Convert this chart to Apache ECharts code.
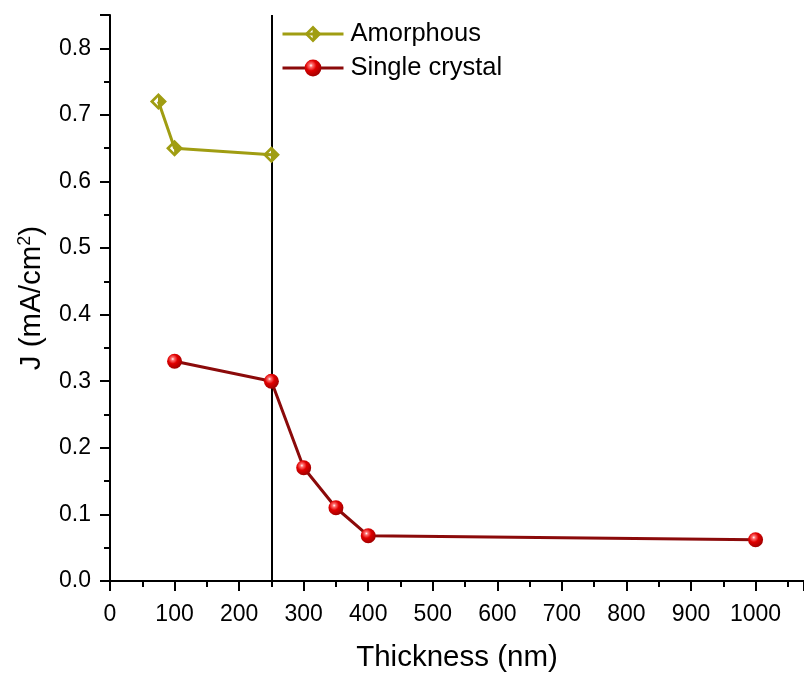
<!DOCTYPE html>
<html>
<head>
<meta charset="utf-8">
<script src="https://cdn.jsdelivr.net/npm/echarts@6/dist/echarts.min.js"></script>
<style>
  html, body { margin: 0; padding: 0; background: #fff; }
  #chart { width: 804px; height: 673px; }
</style>
</head>
<body>
<div id="chart"></div>
<script>
// Current density vs. film thickness
const amorphousThickness = [75, 100, 250];
const amorphousJ = [0.72, 0.65, 0.64];
const crystalThickness = [100, 250, 300, 350, 400, 1000];
const crystalJ = [0.33, 0.30, 0.17, 0.11, 0.068, 0.062];
const dividerThickness = 250;
const seriesNames = ['Amorphous', 'Single crystal'];

const FONT = '"Liberation Sans", Arial, sans-serif';
const olive = '#a09d12';
const darkRed = '#8b0a0a';

// diamond with a small left-pointing window, traced as one outline
// (outer edge, then a slit into the window and around it)
const notchedDiamond = 'path://M0,-10 L10,0 L0,10 L-10,0 L0,-10 ' +
  'L-0.5,-5 L-5.5,0 L-0.5,5 L-0.5,-5 L0,-10 Z';

const sphere = {
  type: 'radial', x: 0.38, y: 0.35, r: 0.7,
  colorStops: [
    { offset: 0, color: '#ffffff' },
    { offset: 0.15, color: '#ff7070' },
    { offset: 0.45, color: '#e00000' },
    { offset: 1, color: '#9a0000' }
  ]
};

const pair = (xs, ys) => xs.map((x, i) => [x, ys[i]]);

const chart = echarts.init(document.getElementById('chart'));
chart.setOption({
  animation: false,
  backgroundColor: '#fff',
  grid: { left: 110, right: 0, top: 15, bottom: 92, containLabel: false, outerBoundsMode: 'none' },
  legend: {
    left: 281, top: 21, orient: 'vertical', padding: 0,
    itemWidth: 61, itemHeight: 21, itemGap: 8,
    lineStyle: { width: 3 },
    textStyle: { fontFamily: FONT, fontSize: 25.5, color: '#000', padding: [0, 0, 0, 2] },
    data: seriesNames
  },
  xAxis: {
    type: 'value', min: 0, max: 1075, interval: 100,
    name: 'Thickness (nm)', nameLocation: 'middle', nameGap: 62,
    nameTextStyle: { fontFamily: FONT, fontSize: 29.5, color: '#000' },
    axisLine: { onZero: false, lineStyle: { color: '#000', width: 2 } },
    axisTick: { inside: false, length: 10, lineStyle: { color: '#000', width: 2 } },
    minorTick: { show: true, splitNumber: 2, length: 6, lineStyle: { color: '#000', width: 2 } },
    axisLabel: {
      fontFamily: FONT, fontSize: 23, color: '#000', margin: 22,
      showMaxLabel: false,
      formatter: v => (v % 100 === 0 ? String(v) : '')
    },
    splitLine: { show: false }
  },
  yAxis: {
    type: 'value', min: 0, max: 0.85, interval: 0.1,
    name: 'J (mA/cm{sup|2})', nameLocation: 'middle', nameGap: 62, nameRotate: 90,
    nameTextStyle: {
      fontFamily: FONT, fontSize: 29.5, color: '#000',
      rich: { sup: { fontFamily: FONT, fontSize: 18, color: '#000', verticalAlign: 'top', padding: [0, 0, 14, 0] } }
    },
    axisLine: { onZero: false, lineStyle: { color: '#000', width: 2 } },
    axisTick: { inside: false, length: 10, lineStyle: { color: '#000', width: 2 } },
    minorTick: { show: true, splitNumber: 2, length: 6, lineStyle: { color: '#000', width: 2 } },
    axisLabel: {
      fontFamily: FONT, fontSize: 23, color: '#000', margin: 19,
      showMaxLabel: false,
      formatter: v => (Math.abs(v * 10 - Math.round(v * 10)) < 1e-6 ? v.toFixed(1) : '')
    },
    splitLine: { show: false }
  },
  series: [
    {
      name: seriesNames[0], type: 'line',
      data: pair(amorphousThickness, amorphousJ),
      symbol: notchedDiamond, symbolSize: 17, z: 3,
      lineStyle: { color: olive, width: 3 },
      itemStyle: { color: olive, borderWidth: 0 },
      markLine: {
        silent: true, symbol: 'none', label: { show: false }, z: 1,
        lineStyle: { color: '#000', width: 2, type: 'solid' },
        data: [{ xAxis: dividerThickness }]
      }
    },
    {
      name: seriesNames[1], type: 'line',
      data: pair(crystalThickness, crystalJ),
      symbol: 'circle', symbolSize: 15, z: 4,
      lineStyle: { color: darkRed, width: 3 },
      itemStyle: { color: sphere, borderWidth: 0 }
    }
  ]
});
</script>
</body>
</html>
